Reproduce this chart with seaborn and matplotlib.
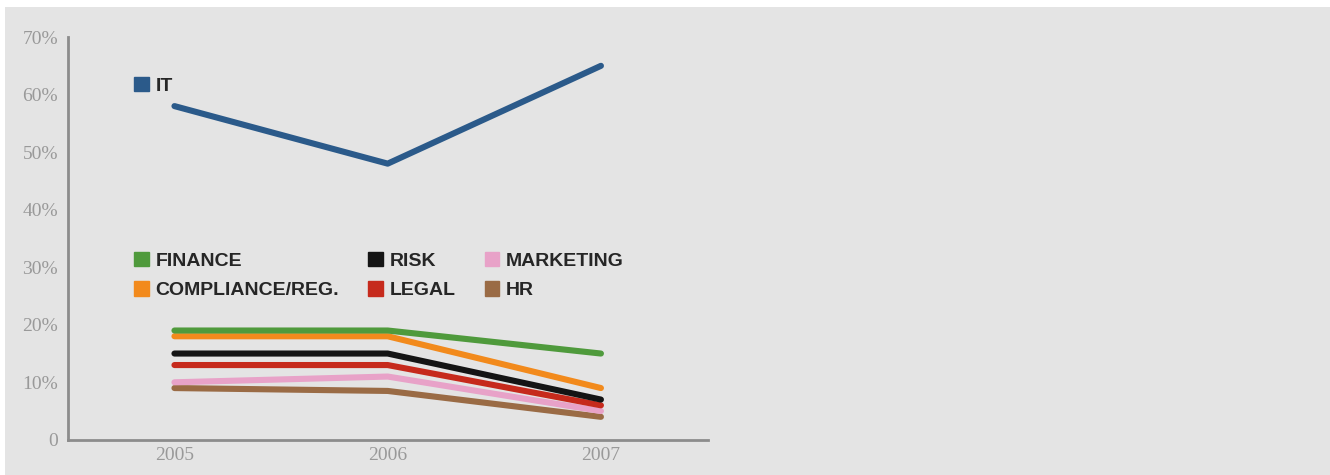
import numpy as np
import pandas as pd
import matplotlib
matplotlib.use("Agg")
import matplotlib.pyplot as plt
from matplotlib.patches import Patch, Rectangle
import seaborn as sns

# values (share of respondents, %)
years = ["2005", "2006", "2007"]
it = [58, 48, 65]
finance = [19, 19, 15]
compliance = [18, 18, 9]
risk = [15, 15, 7]
legal = [13, 13, 6]
marketing = [10, 11, 5]
hr = [9, 8.5, 4]

series = {"IT": it, "FINANCE": finance, "COMPLIANCE/REG.": compliance,
          "RISK": risk, "LEGAL": legal, "MARKETING": marketing, "HR": hr}
colors = {"IT": "#2b5a8a", "FINANCE": "#4f9a3c", "COMPLIANCE/REG.": "#f28a1c",
          "RISK": "#141414", "LEGAL": "#c62a1c", "MARKETING": "#e8a2c8",
          "HR": "#9a6b45"}

rows = []
for name, vals in series.items():
    for i, v in enumerate(vals):
        rows.append({"dept": name, "x": i, "pct": v})
df = pd.DataFrame(rows)

sns.set_style("white")
bg = "#e4e4e4"
fig = plt.figure(figsize=(13.3, 4.75), dpi=100, facecolor="white")
# grey panel with thin white margin top/left, like the scan
fig.patches.append(Rectangle((5 / 1330, 0), 1, 1 - 7 / 475, transform=fig.transFigure,
                             facecolor=bg, edgecolor="none", zorder=-10))
ax = fig.add_axes([0.051, 0.074, 0.481, 0.848], facecolor=bg)

# draw small series first so IT sits on top, same as source
order = ["HR", "MARKETING", "LEGAL", "RISK", "COMPLIANCE/REG.", "FINANCE", "IT"]
for name in order:
    sns.lineplot(data=df[df.dept == name], x="x", y="pct", color=colors[name],
                 lw=4.4, ax=ax, legend=False)

ax.set_xlim(-0.5, 2.5)
ax.set_ylim(0, 70)
ax.set_xlabel("")
ax.set_ylabel("")

ax.set_yticks(np.arange(0, 71, 10))
ax.set_yticklabels(["0"] + [f"{v}%" for v in range(10, 71, 10)])
ax.set_xticks([0, 1, 2])
ax.set_xticklabels(years)
ax.set_xticks([0.5, 1.5, 2.5], minor=True)

for s in ["top", "right"]:
    ax.spines[s].set_visible(False)
for s in ["left", "bottom"]:
    ax.spines[s].set_color("#8c8c8c")
    ax.spines[s].set_linewidth(2)

ax.tick_params(axis="y", direction="in", length=12, width=2, color="#9a9a9a",
               labelsize=14, labelcolor="#999999", pad=7)
ax.tick_params(axis="x", which="major", length=0, labelsize=14,
               labelcolor="#999999", pad=5)
ax.tick_params(axis="x", which="minor", direction="in", length=7, width=2,
               color="#555555")
for lab in ax.get_xticklabels() + ax.get_yticklabels():
    lab.set_family("Liberation Serif")

# legends
leg_font = {"family": "Liberation Sans", "weight": "bold", "size": 14}
it_leg = ax.legend([Patch(color=colors["IT"])], ["IT"], loc="upper left",
                   bbox_to_anchor=(0.076, 0.945), frameon=False, prop=leg_font,
                   handlelength=0.75, handleheight=0.75, handletextpad=0.35)
ax.add_artist(it_leg)

names = ["FINANCE", "COMPLIANCE/REG.", "RISK", "LEGAL", "MARKETING", "HR"]
ax.legend([Patch(color=colors[n]) for n in names], names, ncol=3,
          loc="upper left", bbox_to_anchor=(0.076, 0.51), frameon=False,
          prop=leg_font, handlelength=0.75, handleheight=0.75,
          handletextpad=0.35, columnspacing=1.5, labelspacing=0.6)

fig.savefig("out.png", dpi=100, facecolor="white")
